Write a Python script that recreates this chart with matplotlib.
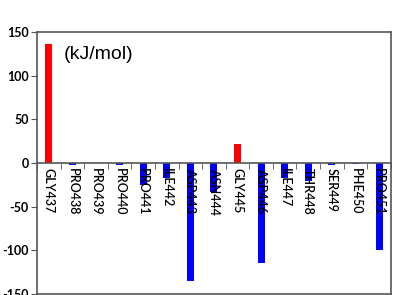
import numpy as np
import matplotlib
matplotlib.use("Agg")
import matplotlib.pyplot as plt
from matplotlib.ticker import FixedLocator

residues = ["GLY437", "PRO438", "PRO439", "PRO440", "PRO441", "ILE442", "ASP443",
            "ASN444", "GLY445", "ASP446", "ILE447", "THR448", "SER449", "PHE450", "PRO451"]
energy = [136, -2, 0, -2.5, -25, -17, -135, -33, 22, -115, -17, -21, -2, -1, -100]
yticks = [-150, -100, -50, 0, 50, 100, 150]

plt.rcParams['font.family'] = ['Lato', 'DejaVu Sans']

fig = plt.figure(figsize=(3.94, 2.95), dpi=100)
ax = fig.add_axes([0.094, 0.004, 0.898, 0.888])

x = np.arange(len(residues))
colors = ["#ff0000" if v > 0 else "#0000ff" for v in energy]
ax.bar(x, energy, width=0.3, color=colors, zorder=1)

ax.set_xlim(-0.5, len(residues) - 0.5)
ax.set_ylim(-150, 150)
ax.set_yticks(yticks)
ax.set_yticklabels([str(v) for v in yticks], fontweight="bold", fontsize=9)
ax.tick_params(axis="y", length=4, color="#555555", pad=2)

# x axis sits on the zero line
ax.spines["bottom"].set_position(("data", 0))
ax.set_xticks(x)
ax.set_xticklabels(residues, rotation=270, fontsize=9, fontweight="semibold",
                   va="top", ha="center")
ax.xaxis.set_minor_locator(FixedLocator(np.arange(-0.5, len(residues), 1.0)))
ax.tick_params(axis="x", which="major", length=0, pad=4)
ax.tick_params(axis="x", which="minor", length=4, direction="out", color="#555555")
ax.plot([0, 1], [0, 0], transform=ax.transAxes, color="#555555", lw=1.2, clip_on=False)

for s in ax.spines.values():
    s.set_color("#555555")
    s.set_linewidth(1.2)

ax.text(0.075, 0.915, "(kJ/mol)", transform=ax.transAxes, fontsize=14,
        family="Liberation Sans", va="center")

fig.savefig("out.png", dpi=100)
